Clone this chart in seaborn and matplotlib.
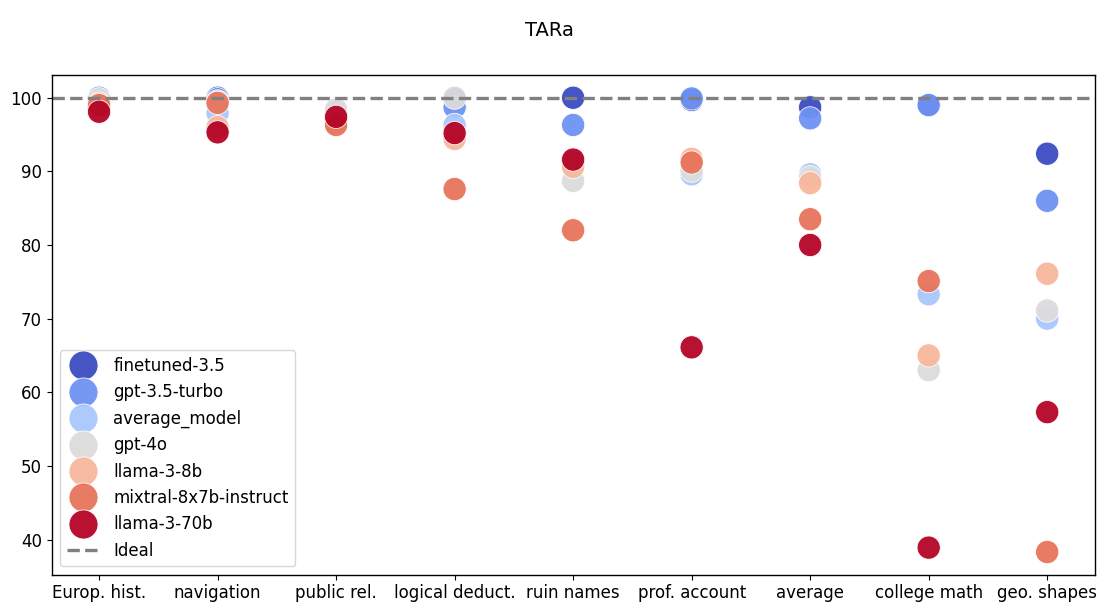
import numpy as np
import pandas as pd
import matplotlib
matplotlib.use("Agg")
import matplotlib.pyplot as plt
import seaborn as sns

tasks = ["Europ. hist.", "navigation", "public rel.", "logical deduct.", "ruin names",
         "prof. account", "average", "college math", "geo. shapes"]
models = ["finetuned-3.5", "gpt-3.5-turbo", "average_model", "gpt-4o",
          "llama-3-8b", "mixtral-8x7b-instruct", "llama-3-70b"]

finetuned = [100.0, 100.0, 97.5, 99.8, 100.0, 99.7, 98.7, 99.0, 92.4]
gpt35 = [100.0, 99.8, 97.8, 98.7, 96.3, 99.9, 97.2, 99.0, 86.0]
average_model = [99.6, 97.9, 98.0, 96.3, 91.2, 89.6, 89.6, 73.3, 70.0]
gpt4o = [99.8, 99.5, 98.4, 100.0, 88.7, 90.1, 89.2, 63.0, 71.1]
llama8b = [99.2, 96.0, 96.6, 94.4, 90.6, 91.7, 88.4, 65.0, 76.1]
mixtral = [99.0, 99.3, 96.3, 87.6, 82.0, 91.2, 83.5, 75.1, 38.3]
llama70b = [98.1, 95.3, 97.4, 95.2, 91.6, 66.1, 80.0, 38.9, 57.3]

values = [finetuned, gpt35, average_model, gpt4o, llama8b, mixtral, llama70b]
rows = []
for m, vals in zip(models, values):
    for t, v in zip(tasks, vals):
        rows.append({"task": t, "model": m, "TARa": v})
df = pd.DataFrame(rows)

# full coolwarm range, ends included
cmap = plt.get_cmap("coolwarm")
palette = [cmap(v) for v in np.linspace(0, 1, len(models))]

plt.rcParams["font.size"] = 12
plt.rcParams["axes.linewidth"] = 1.0

fig, ax = plt.subplots(figsize=(10.99, 6.05), dpi=100)
sns.scatterplot(
    data=df, x="task", y="TARa", hue="model", hue_order=models,
    palette=palette, s=280, alpha=0.95, linewidth=0.6, ax=ax
)
ax.axhline(100, color="gray", linestyle="--", linewidth=2.4, label="Ideal")

ax.set_xlabel("")
ax.set_ylabel("")
ax.tick_params(labelsize=12)
ax.legend(loc="lower left", fontsize=12, markerscale=1.25)
fig.suptitle("TARa", fontsize=14, y=0.965)
fig.subplots_adjust(left=0.047, right=0.996, top=0.876, bottom=0.05)

plt.savefig("out.png", dpi=100)
plt.close()
